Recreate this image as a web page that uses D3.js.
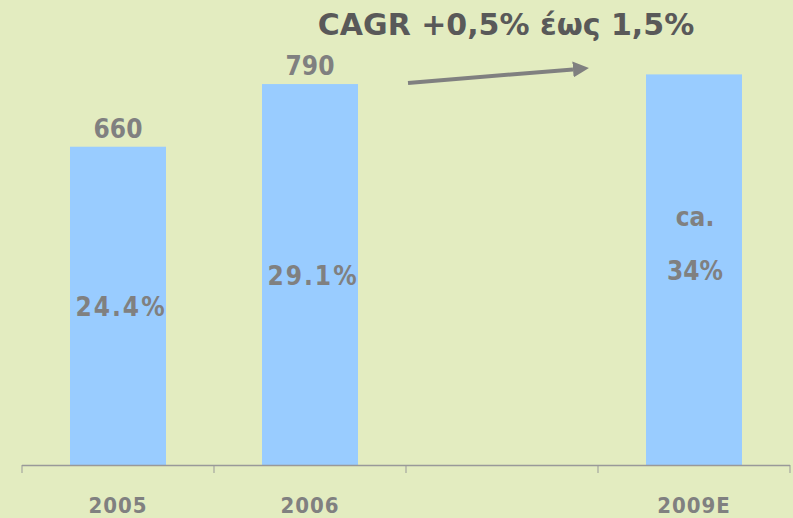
<!DOCTYPE html>
<html>
<head>
<meta charset="utf-8">
<script src="https://cdn.jsdelivr.net/npm/d3@7"></script>
<style>
  html, body { margin: 0; padding: 0; background: #e3ecc0; }
  svg { display: block; }
  text { font-family: "DejaVu Sans Condensed", "DejaVu Sans", sans-serif; font-stretch: condensed; font-weight: bold; }
</style>
</head>
<body>
<div id="chart"></div>
<script>
// categories on the x axis (third slot is an empty gap)
var years = ["2005", "2006", "", "2009E"];
// bar values
var values = [660, 790, null, 810];
// labels above the bars
var valueLabels = ["660", "790", "", ""];
// share labels inside the bars (multi-line split on |)
var shareLabels = ["24.4%", "29.1%", "", "ca.|34%"];
var title = "CAGR +0,5% έως 1,5%";

var width = 793, height = 518;
var baseY = 465;

var svg = d3.select("#chart")
    .append("svg")
    .attr("width", width)
    .attr("height", height);

svg.append("rect")
    .attr("width", width)
    .attr("height", height)
    .attr("fill", "#e3ecc0");

// scales
var x = d3.scaleBand()
    .domain(years)
    .range([22, 790])
    .paddingInner(0.5)
    .paddingOuter(0.25);

var y = d3.scaleLinear()
    .domain([0, 900])
    .range([baseY, 31]);

var step = x.step();
var half = step * x.paddingInner() / 2;

// bars
var data = years.map(function(d, i) {
    return { year: d, value: values[i], label: valueLabels[i], share: shareLabels[i] };
}).filter(function(d) { return d.value != null; });

svg.selectAll(".bar")
    .data(data)
    .enter()
    .append("rect")
    .attr("class", "bar")
    .attr("x", function(d) { return x(d.year); })
    .attr("y", function(d) { return y(d.value); })
    .attr("width", x.bandwidth())
    .attr("height", function(d) { return baseY - y(d.value); })
    .attr("fill", "#99ccff");

// axis line + ticks at band boundaries
var bounds = years.map(function(d) { return x(d) - half; });
bounds.push(x(years[years.length - 1]) + x.bandwidth() + half);

svg.append("line")
    .attr("x1", bounds[0]).attr("x2", bounds[bounds.length - 1])
    .attr("y1", baseY + 0.5).attr("y2", baseY + 0.5)
    .attr("stroke", "#999999").attr("stroke-width", 1.5);

svg.selectAll(".tick")
    .data(bounds)
    .enter()
    .append("line")
    .attr("x1", function(d) { return d; }).attr("x2", function(d) { return d; })
    .attr("y1", baseY).attr("y2", baseY + 8)
    .attr("stroke", "#999999").attr("stroke-width", 1);

// category labels
svg.selectAll(".xlabel")
    .data(years)
    .enter()
    .append("text")
    .attr("x", function(d) { return x(d) + x.bandwidth() / 2; })
    .attr("y", 513)
    .attr("text-anchor", "middle")
    .attr("fill", "#808080")
    .style("font-size", "22px")
    .style("letter-spacing", "1px")
    .text(function(d) { return d; });

// value labels above bars
svg.selectAll(".vlabel")
    .data(data)
    .enter()
    .append("text")
    .attr("x", function(d) { return x(d.year) + x.bandwidth() / 2; })
    .attr("y", function(d) { return y(d.value) - 9; })
    .attr("text-anchor", "middle")
    .attr("fill", "#808080")
    .style("font-size", "26px")
    .text(function(d) { return d.label; });

// share labels inside bars
data.forEach(function(d) {
    if (!d.share) return;
    var lines = d.share.split("|");
    var cx = x(d.year) + x.bandwidth() / 2;
    var mid = y(d.value / 2);
    lines.forEach(function(line, k) {
        svg.append("text")
            .attr("x", cx + (lines.length > 1 ? 1 : 3))
            .attr("y", mid + 10 - (lines.length - 1 - k) * 54)
            .attr("text-anchor", "middle")
            .attr("fill", "#808080")
            .style("font-size", "26px")
            .style("letter-spacing", lines.length > 1 ? "0px" : "2px")
            .text(line);
    });
});

// CAGR annotation
svg.append("text")
    .attr("x", 506)
    .attr("y", 35)
    .attr("text-anchor", "middle")
    .attr("fill", "#595959")
    .style("font-family", "'DejaVu Sans', sans-serif")
    .style("font-stretch", "normal")
    .style("font-size", "30px")
    .text(title);

svg.append("defs").append("marker")
    .attr("id", "arrow")
    .attr("viewBox", "0 0 10 10")
    .attr("refX", 0).attr("refY", 5)
    .attr("markerWidth", 4).attr("markerHeight", 4)
    .attr("orient", "auto")
    .attr("markerUnits", "strokeWidth")
    .append("path")
    .attr("d", "M0,0 L10,5 L0,10 Z")
    .attr("fill", "#808080");

var ax1 = x("2006") + x.bandwidth() + 50,
    ax2 = x("2009E") - 73;
svg.append("line")
    .attr("x1", ax1).attr("y1", y(790) - 1)
    .attr("x2", ax2).attr("y2", y(810) - 5)
    .attr("stroke", "#808080")
    .attr("stroke-width", 4)
    .attr("marker-end", "url(#arrow)");
</script>
</body>
</html>
